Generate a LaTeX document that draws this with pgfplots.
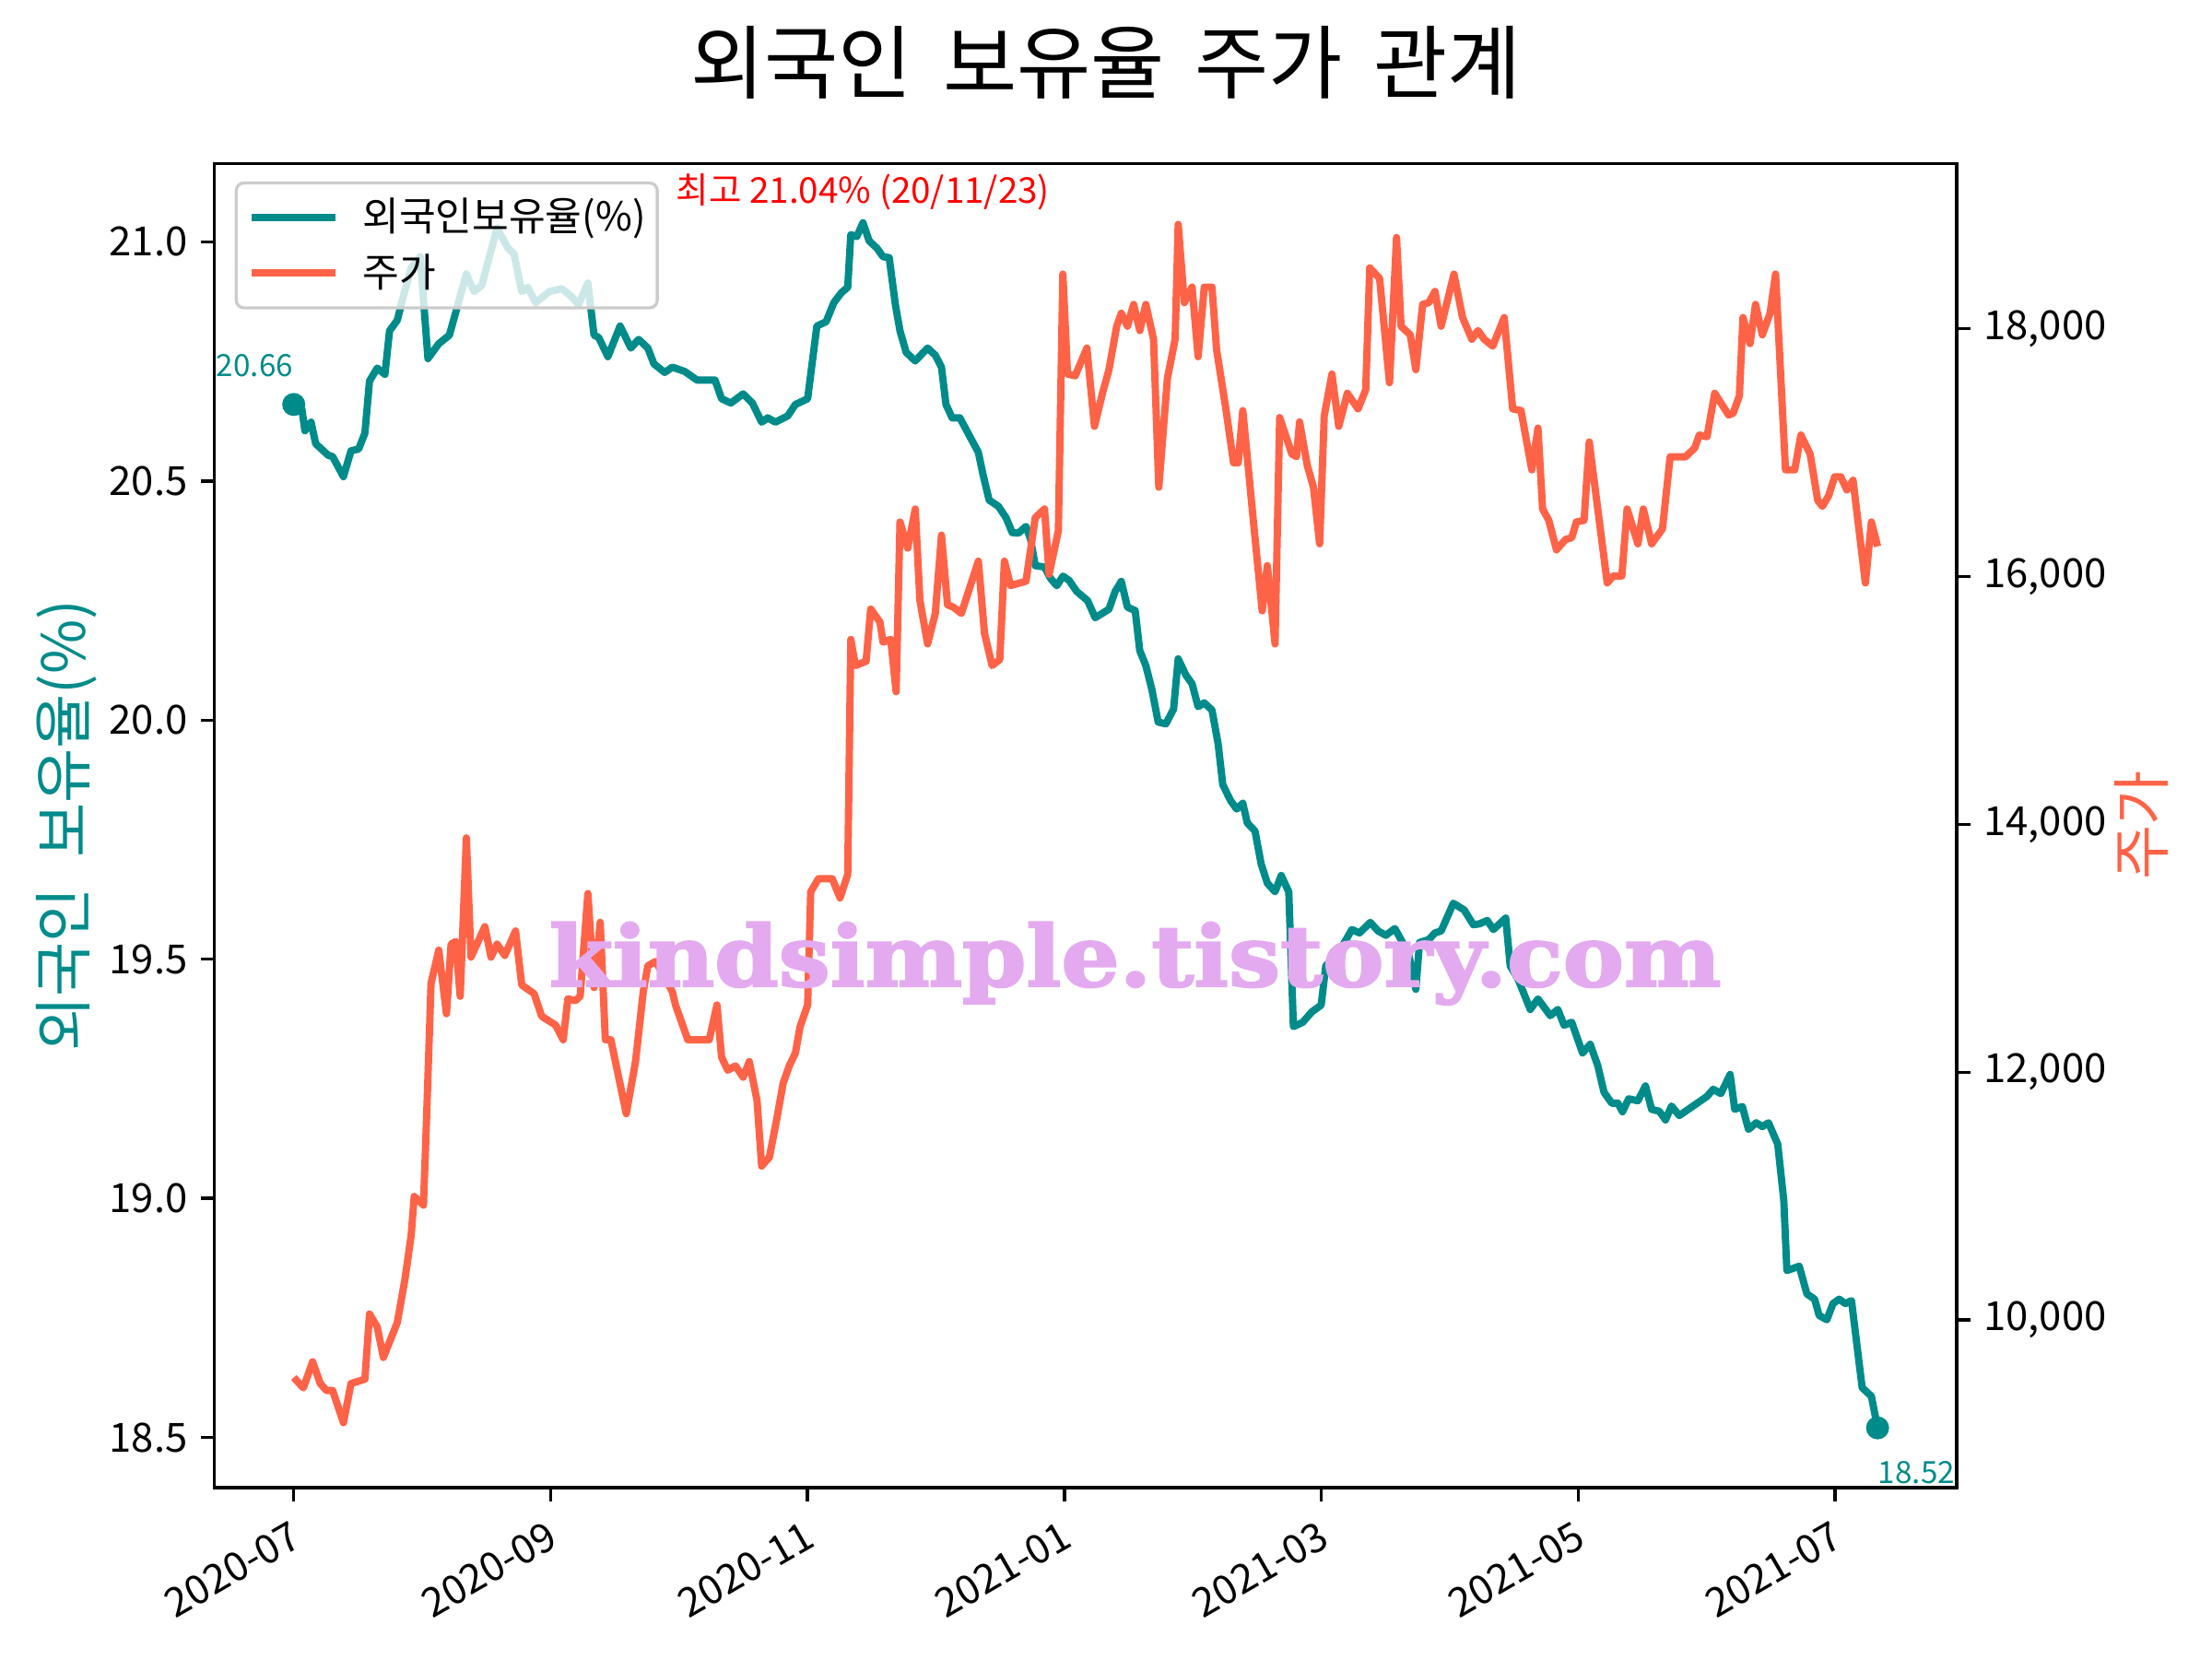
\documentclass[border=0pt]{standalone}
\usepackage{pgfplots}
\pgfplotsset{compat=1.18}
\usepackage{fontspec}
\setmainfont{Noto Sans CJK KR}
\newfontfamily\wmfont{DejaVu Serif}[UprightFont=* Bold, FakeStretch=1.09, FakeBold=2.5]
\definecolor{dcyan}{HTML}{008B8B}
\definecolor{tomato}{HTML}{FF6347}
\definecolor{wm}{RGB}{228,170,240}

\pgfplotstableread{
u v
0 20.66
0.063 20.651
0.087 20.605
0.135 20.623
0.171 20.578
0.267 20.554
0.303 20.551
0.387 20.509
0.446 20.563
0.506 20.567
0.554 20.600
0.590 20.709
0.650 20.736
0.710 20.723
0.746 20.814
0.806 20.836
0.854 20.887
0.914 20.945
0.985 20.969
1.045 20.756
1.129 20.787
1.212 20.805
1.344 20.933
1.404 20.896
1.464 20.909
1.583 21.029
1.667 20.987
1.715 20.975
1.775 20.896
1.823 20.905
1.883 20.873
1.990 20.896
2.086 20.902
2.158 20.887
2.218 20.869
2.290 20.914
2.338 20.805
2.374 20.800
2.446 20.760
2.541 20.824
2.625 20.778
2.685 20.796
2.757 20.778
2.804 20.745
2.888 20.727
2.948 20.738
3.044 20.729
3.140 20.711
3.280 20.711
3.331 20.672
3.403 20.663
3.499 20.682
3.571 20.663
3.643 20.623
3.690 20.632
3.750 20.623
3.846 20.636
3.906 20.660
4.001 20.672
4.073 20.824
4.145 20.833
4.205 20.873
4.265 20.894
4.313 20.905
4.337 21.015
4.384 21.011
4.432 21.04
4.480 21.002
4.540 20.987
4.588 20.969
4.636 20.967
4.684 20.869
4.720 20.814
4.768 20.769
4.839 20.751
4.935 20.778
4.995 20.763
5.043 20.738
5.078 20.660
5.126 20.632
5.186 20.632
5.258 20.596
5.330 20.560
5.366 20.514
5.414 20.460
5.486 20.447
5.546 20.423
5.594 20.392
5.642 20.391
5.701 20.405
5.737 20.378
5.773 20.323
5.845 20.320
5.893 20.296
5.941 20.281
5.989 20.301
6.037 20.292
6.096 20.269
6.180 20.250
6.240 20.214
6.347 20.232
6.395 20.269
6.443 20.290
6.491 20.236
6.551 20.229
6.587 20.145
6.634 20.114
6.682 20.063
6.730 19.996
6.790 19.992
6.850 20.023
6.886 20.128
6.946 20.094
6.994 20.076
7.041 20.028
7.089 20.036
7.149 20.021
7.197 19.950
7.233 19.865
7.293 19.832
7.341 19.814
7.389 19.826
7.424 19.785
7.484 19.768
7.532 19.699
7.580 19.659
7.640 19.641
7.688 19.675
7.747 19.641
7.783 19.359
7.855 19.368
7.927 19.390
7.999 19.404
8.035 19.486
8.142 19.517
8.238 19.562
8.298 19.555
8.382 19.577
8.442 19.559
8.502 19.550
8.573 19.564
8.633 19.535
8.681 19.510
8.736 19.437
8.765 19.535
8.837 19.541
8.885 19.555
8.933 19.559
9.028 19.617
9.112 19.603
9.184 19.572
9.232 19.574
9.292 19.581
9.340 19.562
9.436 19.586
9.471 19.486
9.531 19.459
9.627 19.395
9.687 19.417
9.783 19.382
9.842 19.395
9.890 19.362
9.950 19.368
10.034 19.304
10.094 19.322
10.153 19.277
10.201 19.222
10.261 19.199
10.309 19.199
10.345 19.181
10.393 19.208
10.465 19.204
10.524 19.235
10.572 19.186
10.632 19.182
10.680 19.164
10.727 19.193
10.787 19.173
11.003 19.213
11.051 19.228
11.111 19.219
11.183 19.259
11.219 19.186
11.278 19.192
11.326 19.144
11.386 19.158
11.434 19.150
11.482 19.158
11.554 19.113
11.601 18.995
11.625 18.849
11.721 18.858
11.781 18.800
11.841 18.789
11.876 18.755
11.936 18.746
11.984 18.780
12.032 18.789
12.080 18.780
12.128 18.786
12.211 18.604
12.283 18.586
12.331 18.52
}\owntable

\pgfplotstableread{
u p
0 9536
0.075 9452
0.147 9663
0.207 9487
0.255 9431
0.303 9431
0.387 9171
0.446 9487
0.554 9522
0.590 10049
0.650 9944
0.698 9698
0.806 9979
0.866 10330
0.914 10681
0.938 10997
1.010 10927
1.033 11594
1.069 12718
1.129 12985
1.189 12472
1.225 13034
1.261 13055
1.296 12613
1.344 13891
1.380 12929
1.488 13175
1.536 12929
1.583 13034
1.643 12943
1.727 13140
1.775 12704
1.871 12634
1.931 12451
2.038 12381
2.098 12262
2.134 12592
2.194 12578
2.230 12613
2.290 13442
2.338 12683
2.386 13210
2.426 12262
2.469 12262
2.589 11665
2.661 12086
2.721 12648
2.757 12859
2.817 12894
2.877 12789
2.948 12648
2.972 12543
3.068 12262
3.235 12262
3.295 12543
3.331 12121
3.379 12016
3.439 12051
3.499 11960
3.547 12086
3.607 11770
3.643 11243
3.703 11313
3.762 11630
3.810 11910
3.858 12051
3.906 12156
3.942 12367
4.001 12543
4.025 13456
4.085 13561
4.193 13561
4.253 13407
4.313 13596
4.337 15493
4.373 15282
4.456 15317
4.492 15738
4.564 15633
4.588 15471
4.648 15493
4.690 15071
4.720 16441
4.780 16230
4.839 16546
4.875 15809
4.935 15457
4.995 15703
5.043 16335
5.090 15773
5.138 15752
5.198 15703
5.330 16125
5.378 15542
5.437 15282
5.497 15331
5.533 16125
5.581 15928
5.701 15963
5.773 16476
5.845 16546
5.881 16019
5.953 16370
5.988 18442
6.024 17635
6.084 17621
6.175 17845
6.234 17213
6.300 17494
6.347 17670
6.407 18021
6.443 18126
6.491 18021
6.539 18197
6.587 17986
6.634 18197
6.694 17916
6.735 16722
6.802 17600
6.862 17916
6.886 18843
6.934 18211
6.994 18337
7.041 17775
7.089 18337
7.149 18337
7.185 17831
7.257 17354
7.317 16918
7.353 16918
7.389 17340
7.472 16441
7.540 15724
7.580 16089
7.640 15457
7.676 17284
7.771 16989
7.807 16968
7.831 17249
7.891 16897
7.939 16722
7.987 16265
8.023 17298
8.083 17635
8.136 17213
8.203 17480
8.286 17354
8.346 17508
8.377 18492
8.454 18407
8.531 17565
8.586 18737
8.621 18021
8.693 17951
8.736 17670
8.789 18197
8.837 18211
8.885 18302
8.933 18021
9.033 18442
9.100 18091
9.172 17916
9.220 17986
9.268 17916
9.335 17860
9.424 18091
9.490 17354
9.555 17340
9.639 16862
9.687 17199
9.723 16546
9.771 16455
9.831 16216
9.902 16300
9.950 16314
9.986 16441
10.046 16455
10.086 17087
10.226 15949
10.273 16005
10.340 16005
10.381 16546
10.465 16265
10.507 16546
10.572 16265
10.656 16385
10.716 16967
10.836 16967
10.907 17038
10.943 17143
11.003 17129
11.063 17480
11.171 17305
11.207 17319
11.255 17459
11.283 18091
11.338 17881
11.381 18197
11.434 17951
11.494 18126
11.537 18442
11.614 16862
11.686 16862
11.734 17143
11.806 16989
11.865 16616
11.901 16567
11.949 16651
11.997 16806
12.044 16806
12.092 16700
12.140 16778
12.236 15949
12.283 16441
12.331 16244
}\pricetable

\begin{document}
\begin{tikzpicture}
\path[use as bounding box] (0,0) rectangle (576bp,432bp);
\node at (288bp,415.6bp) {\fontsize{21}{25}\selectfont 외국인\hspace{0.38em}보유율\hspace{0.38em}주가\hspace{0.38em}관계};

\pgfplotsset{
  base/.style={
    at={(55.85bp,44.64bp)}, anchor=south west,
    scale only axis, width=453.7bp, height=344.8bp,
    xmin=-0.617, xmax=12.948,
    tick align=outside, major tick length=3.5bp,
    every tick/.style={black, line width=0.8bp},
    axis line style={line width=0.8bp},
    ticklabel style={font=\fontsize{10.5}{12.5}\selectfont},
    /pgf/number format/assume math mode=true,
    clip mode=individual,
  }
}

\begin{axis}[base,
  ymin=18.395, ymax=21.164,
  xtick={0,2,4,6,8,10,12},
  xticklabels={2020-07,2020-09,2020-11,2021-01,2021-03,2021-05,2021-07},
  xticklabel style={rotate=30, anchor=north east},
  xtick pos=bottom, ytick pos=left,
  ytick={18.5,19,19.5,20,20.5,21},
  yticklabel style={/pgf/number format/.cd, fixed, fixed zerofill, precision=1},
  ylabel={외국인\hspace{0.5em}보유율(\%)},
  ylabel style={text=dcyan, font=\fontsize{15.5}{18}\selectfont, at={(axis description cs:-0.085,0.5)}, anchor=center},
]
\addplot[dcyan, line width=1.9bp, line join=round] table[x=u,y=v]{\owntable};
\addplot[only marks, mark=*, mark size=2.8bp, dcyan, mark options={draw=dcyan, fill=dcyan}] coordinates {(0,20.66) (12.331,18.52)};
\node[anchor=south east, inner sep=0pt, text=dcyan, font=\fontsize{8}{9.6}\selectfont, yshift=7bp] at (axis cs:0,20.66) {20.66};
\node[anchor=north west, inner sep=0pt, text=dcyan, font=\fontsize{8}{9.6}\selectfont, yshift=-8.4bp] at (axis cs:12.331,18.52) {18.52};
\node[text=red, font=\fontsize{9.3}{11}\selectfont, inner sep=0pt] at (axis cs:4.432,21.104) {최고 21.04\% (20/11/23)};
\end{axis}

\begin{axis}[base,
  ymin=8647, ymax=19335,
  axis y line*=right, axis x line=none,
  ytick={10000,12000,14000,16000,18000},
  scaled y ticks=false,
  yticklabel style={/pgf/number format/.cd, fixed, 1000 sep={,}},
  ylabel={주가},
  ylabel style={text=tomato, font=\fontsize{15.5}{18}\selectfont, at={(axis description cs:1.106,0.5)}, anchor=center},
  legend cell align=left,
  legend image code/.code={\draw[#1] (0bp,0bp) -- (22bp,0bp);},
  legend style={at={(axis description cs:0.0116,0.9864)}, anchor=north west,
    draw=black!20, fill=white, fill opacity=0.8, text opacity=1, rounded corners=2bp,
    font=\fontsize{10.4}{12.5}\selectfont, inner xsep=3bp, inner ysep=4bp,
    nodes={inner sep=0pt}, column sep=6bp, row sep=4.4bp,
    line width=0.8bp},
]
\addlegendimage{dcyan, line width=1.9bp}
\addlegendentry{외국인보유율(\%)}
\addplot[tomato, line width=1.9bp, line join=round] table[x=u,y=p]{\pricetable};
\addlegendentry{주가}
\end{axis}

\node[anchor=base, text=wm, font=\wmfont\fontsize{22}{26}\selectfont, inner sep=0pt] at (295.6bp,175.2bp) {kindsimple.tistory.com};
\end{tikzpicture}
\end{document}
